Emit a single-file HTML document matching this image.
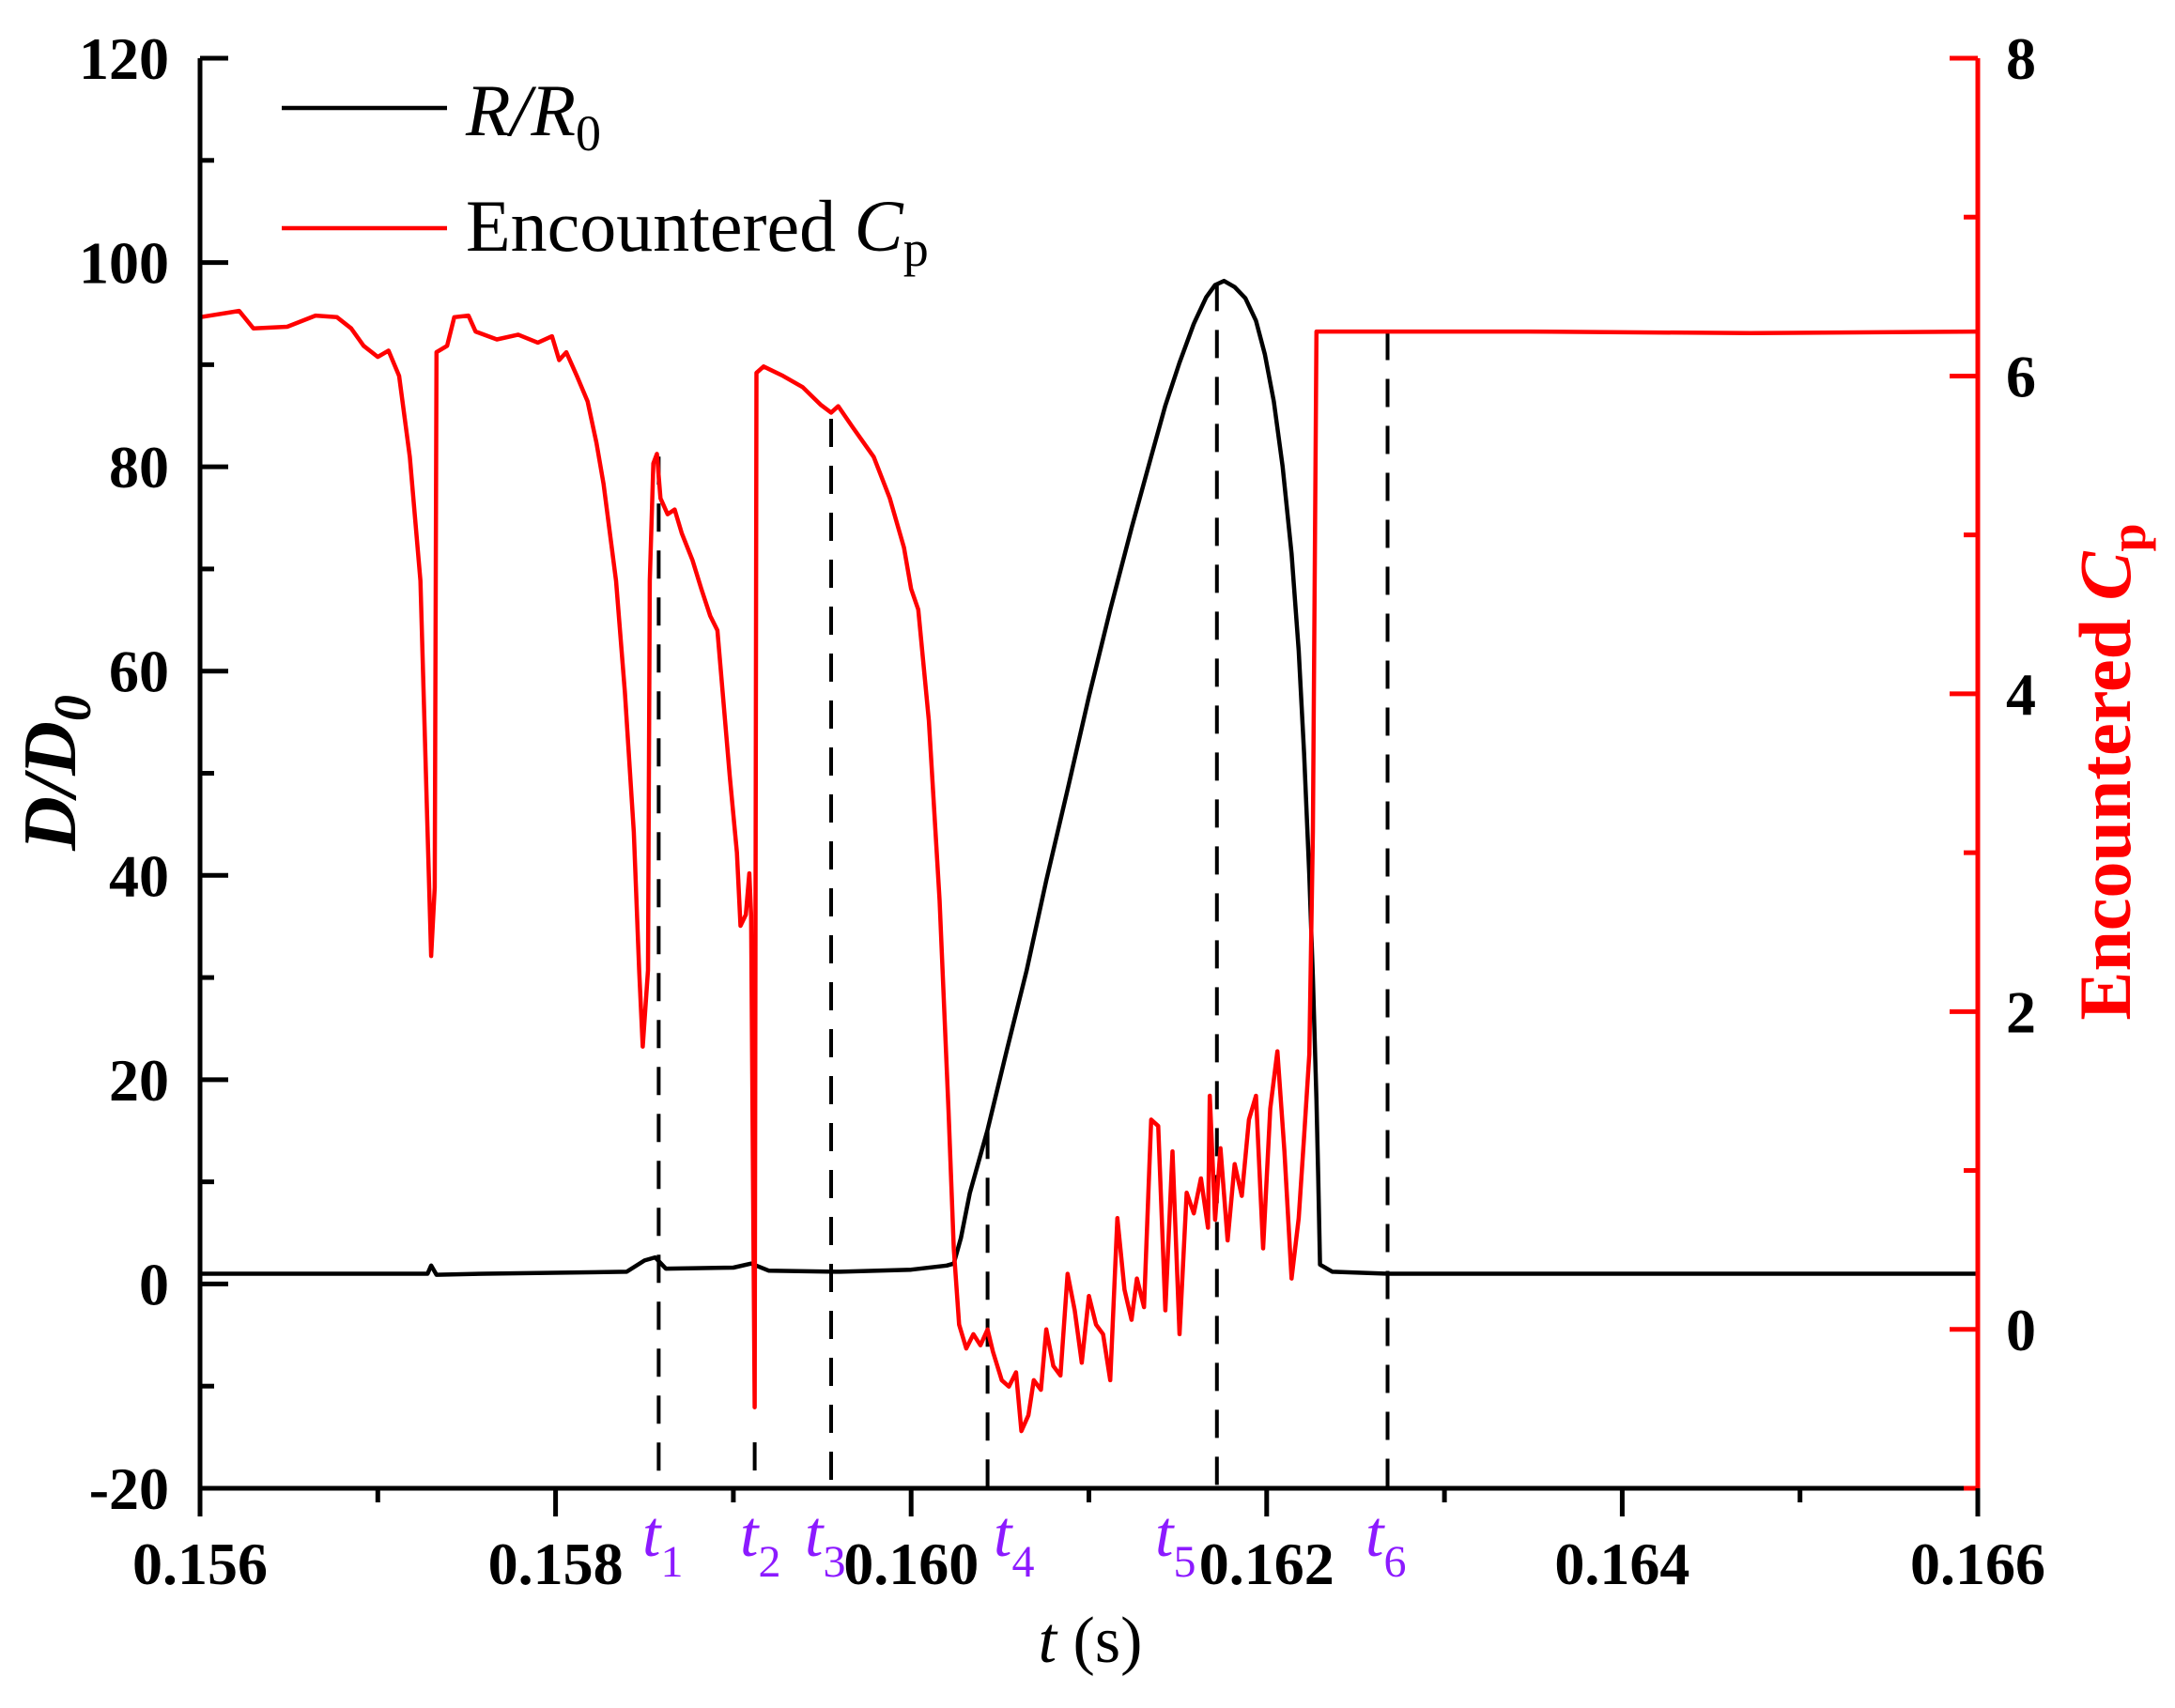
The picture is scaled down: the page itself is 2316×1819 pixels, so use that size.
<!DOCTYPE html>
<html><head><meta charset="utf-8"><style>
html,body{margin:0;padding:0;background:#fff;}
svg{display:block;font-family:"Liberation Serif",serif;}
</style></head><body>
<svg id="chart" width="2316" height="1819" viewBox="0 0 2316 1819" xmlns="http://www.w3.org/2000/svg"></svg>
<script>
const xTicks=[0.156,0.158,0.160,0.162,0.164,0.166];
const xTickLabels=["0.156","0.158","0.160","0.162","0.164","0.166"];
const leftTicks=[-20,0,20,40,60,80,100,120];
const rightTicks=[0,2,4,6,8];
const redT=[0.15600,0.15622,0.15630,0.15649,0.15665,0.15677,0.15685,0.15692,0.15700,0.15706,0.15712,0.15718,0.15724,0.15728,0.15730,0.15732,0.15733,0.15739,0.15743,0.15751,0.15755,0.15767,0.15779,0.15790,0.15798,0.15802,0.15806,0.15812,0.15818,0.15823,0.15827,0.15834,0.15839,0.15844,0.15847,0.15849,0.15852,0.15853,0.15855,0.15857,0.15859,0.15863,0.15867,0.15871,0.15877,0.15882,0.15887,0.15891,0.15894,0.15898,0.15902,0.15904,0.15907,0.15909,0.15910,0.15912,0.15913,0.15917,0.15928,0.15939,0.15949,0.15955,0.15959,0.15967,0.15979,0.15988,0.15996,0.16000,0.16004,0.16010,0.16016,0.16021,0.16024,0.16027,0.16031,0.16035,0.16039,0.16043,0.16046,0.16051,0.16055,0.16059,0.16062,0.16066,0.16069,0.16073,0.16076,0.16080,0.16084,0.16088,0.16092,0.16096,0.16100,0.16104,0.16108,0.16112,0.16116,0.16120,0.16124,0.16127,0.16131,0.16135,0.16139,0.16143,0.16147,0.16151,0.16155,0.16159,0.16163,0.16167,0.16168,0.16171,0.16174,0.16178,0.16182,0.16186,0.16190,0.16194,0.16198,0.16202,0.16206,0.16210,0.16214,0.16218,0.16221,0.16224,0.16226,0.16228,0.16237,0.16347,0.16472,0.16600];
const redCp=[6.37,6.41,6.30,6.31,6.38,6.37,6.30,6.19,6.12,6.16,6.00,5.49,4.71,3.13,2.35,2.78,6.15,6.19,6.37,6.38,6.28,6.23,6.26,6.21,6.25,6.10,6.15,6.00,5.84,5.58,5.32,4.71,4.01,3.13,2.26,1.78,2.26,4.71,5.45,5.51,5.23,5.13,5.16,5.01,4.84,4.66,4.49,4.40,4.01,3.48,3.00,2.54,2.61,2.87,2.61,-0.49,6.02,6.06,6.00,5.93,5.82,5.77,5.81,5.68,5.49,5.23,4.92,4.66,4.53,3.83,2.70,1.38,0.51,0.03,-0.12,-0.03,-0.10,0.00,-0.14,-0.32,-0.36,-0.27,-0.64,-0.54,-0.32,-0.38,0.00,-0.23,-0.29,0.35,0.12,-0.21,0.21,0.03,-0.03,-0.32,0.70,0.25,0.06,0.32,0.14,1.32,1.28,0.12,1.12,-0.03,0.86,0.73,0.95,0.64,1.47,0.69,1.14,0.56,1.04,0.84,1.32,1.47,0.51,1.39,1.75,1.12,0.32,0.70,1.21,1.73,3.13,6.28,6.28,6.28,6.27,6.28];
const blackT=[0.15600,0.15700,0.15728,0.15730,0.15733,0.15760,0.15840,0.15850,0.15856,0.15862,0.15900,0.15910,0.15920,0.15960,0.16000,0.16020,0.16024,0.16028,0.16033,0.16043,0.16054,0.16065,0.16076,0.16088,0.16100,0.16112,0.16124,0.16135,0.16143,0.16151,0.16159,0.16166,0.16171,0.16176,0.16182,0.16188,0.16194,0.16199,0.16204,0.16209,0.16214,0.16218,0.16221,0.16224,0.16226,0.16228,0.16229,0.16230,0.16237,0.16268,0.16600];
const blackD=[1.0,1.0,1.0,1.8,0.9,1.0,1.2,2.3,2.6,1.5,1.6,2.0,1.3,1.2,1.4,1.8,2.0,4.5,8.9,15.1,23.0,30.7,39.5,48.4,57.5,66.0,74.0,81.0,86.0,90.2,94.0,96.6,97.8,98.2,97.6,96.5,94.3,91.0,86.4,80.0,71.5,62.0,52.0,40.0,30.0,18.0,10.4,1.9,1.2,1.0,1.0];
const markT=[0.15858,0.15912,0.15955,0.16043,0.16172,0.16268];
const markTopD=[81,-15.5,84.7,15,98,93.2];
const markNames=["1","2","3","4","5","6"];
const markLabelX=[684,788,857,1058,1230,1454];

const L=213,R=2106,T=62,B=1585;
const xs=t=>L+(t-0.156)/0.010*(R-L);
const yl=d=>T+(120-d)/140*(B-T);
const yr=c=>T+(8-c)/9*(B-T);
const NS="http://www.w3.org/2000/svg";
const svg=document.getElementById('chart');
function mk(tag,attrs,parent){const e=document.createElementNS(NS,tag);for(const k in attrs)e.setAttribute(k,attrs[k]);(parent||svg).appendChild(e);return e;}

markT.forEach((t,i)=>{
  const l=mk('line',{x1:xs(t),x2:xs(t),y1:yl(markTopD[i]),y2:B,stroke:'#000','stroke-width':4,'stroke-dasharray':'30,20'});
  
  
});
let p='';blackT.forEach((t,i)=>{p+=(i?'L':'M')+xs(t).toFixed(1)+','+yl(blackD[i]).toFixed(1);});
const bl=mk('path',{d:p,fill:'none',stroke:'#000','stroke-width':4.5,'stroke-linejoin':'round'});


p='';redT.forEach((t,i)=>{p+=(i?'L':'M')+xs(t).toFixed(1)+','+yr(redCp[i]).toFixed(1);});
const rl=mk('path',{d:p,fill:'none',stroke:'#ff0000','stroke-width':4.5,'stroke-linejoin':'round'});



const ax=mk('g',{});


mk('line',{x1:L,x2:R,y1:B,y2:B,stroke:'#000','stroke-width':5},ax);
mk('line',{x1:L,x2:L,y1:T,y2:B+2,stroke:'#000','stroke-width':5},ax);
mk('line',{x1:R,x2:R,y1:T,y2:B+2,stroke:'#ff0000','stroke-width':5},ax);
for(let v=-20;v<=120;v+=10){const y=yl(v);mk('line',{x1:L,x2:L+(v%20===0?30:15),y1:y,y2:y,stroke:'#000','stroke-width':5},ax);}
for(let v=-1;v<=8;v+=1){const y=yr(v);mk('line',{x1:R,x2:R-(v%2===0?30:15),y1:y,y2:y,stroke:'#ff0000','stroke-width':5},ax);}
for(let k=0;k<=10;k++){const x=xs(0.156+k*0.001);mk('line',{x1:x,x2:x,y1:B,y2:B+(k%2===0?30:15),stroke:'#000','stroke-width':5},ax);}
leftTicks.forEach(v=>{const t=mk('text',{x:180,y:yl(v)+22,'text-anchor':'end','font-size':64,'font-weight':'bold'});t.textContent=v;
  });
rightTicks.forEach(v=>{const t=mk('text',{x:2136,y:yr(v)+22,'font-size':64,'font-weight':'bold'});t.textContent=v;
  });
xTicks.forEach((v,i)=>{const t=mk('text',{x:xs(v),y:1687,'text-anchor':'middle','font-size':64,'font-weight':'bold'});t.textContent=xTickLabels[i];
  });
markNames.forEach((n,i)=>{const t=mk('text',{x:markLabelX[i],y:1657,'font-size':70,'font-style':'italic',fill:'#8c1aff'});
  t.innerHTML='t<tspan font-style="normal" font-size="48" dy="22">'+n+'</tspan>';
  });
</script>
<svg style="position:absolute;left:0;top:0" width="2316" height="1819">
  <text x="1161" y="1770" text-anchor="middle" font-family="Liberation Serif, serif" font-size="70"><tspan font-style="italic">t</tspan> (s)</text>
  <text transform="translate(80,823) rotate(-90)" text-anchor="middle" font-family="Liberation Serif, serif" font-size="80" font-weight="bold" font-style="italic">D/D<tspan font-size="56" dy="16">0</tspan></text>
  <text transform="translate(2268,822) rotate(-90)" text-anchor="middle" font-family="Liberation Serif, serif" font-size="78" font-weight="bold" fill="#ff0000">Encountered <tspan font-style="italic">C</tspan><tspan font-size="54" dy="16">p</tspan></text>
  <g font-family="Liberation Serif, serif" font-size="78">
    <line x1="300" x2="476" y1="115" y2="115" stroke="#000" stroke-width="4.5"/>
    <text x="496" y="144" font-style="italic">R/R<tspan font-style="normal" font-size="54" dy="16">0</tspan></text>
    <line x1="300" x2="476" y1="243" y2="243" stroke="#ff0000" stroke-width="4.5"/>
    <text x="496" y="267">Encountered <tspan font-style="italic">C</tspan><tspan font-size="54" dy="16">p</tspan></text>
  </g>
</svg>
</body></html>
